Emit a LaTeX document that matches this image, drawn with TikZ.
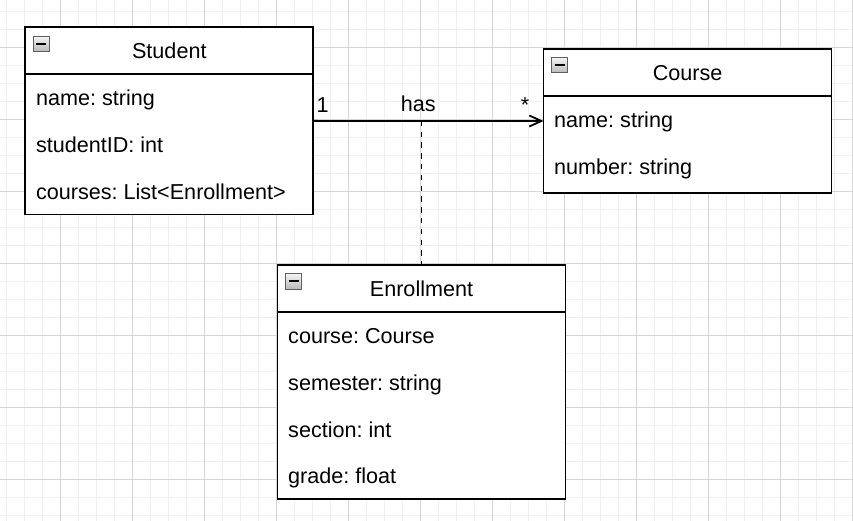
\documentclass[tikz,border=0pt]{standalone}
\usepackage{fontspec}
\setmainfont{Liberation Sans}
\usetikzlibrary{arrows.meta}
\definecolor{gridminor}{HTML}{F0F0F0}
\definecolor{gridmajor}{HTML}{D6D6D6}
\frenchspacing
\begin{document}
\begin{tikzpicture}[x=1pt,y=-1pt,
  classbox/.style={draw=black, line width=1.8pt, fill=white, anchor=north west, inner sep=0pt, outer sep=0pt, minimum width=288pt},
  divider/.style={draw=black, line width=1.8pt},
  title/.style={anchor=base, inner sep=0pt, font=\fontsize{21.6}{26}\selectfont},
  attr/.style={anchor=base west, inner sep=0pt, font=\fontsize{21.6}{26}\selectfont},
  mult/.style={anchor=base, inner sep=0pt, font=\fontsize{21.6}{26}\selectfont},
  icon/.style={anchor=north west, minimum width=16pt, minimum height=15.5pt, inner sep=0pt, outer sep=0pt,
    draw=gray!75!black, line width=0.8pt, top color=gray!8, bottom color=gray!55,
    path picture={\draw[black,line width=2pt] ([xshift=3pt]path picture bounding box.west) -- ([xshift=-3pt]path picture bounding box.east);}},
  assoc/.style={line width=1.8pt, -{Straight Barb[length=12pt,width=11pt]}},
  dashline/.style={line width=1.8pt, dash pattern=on 5.4pt off 5.4pt},
  minorgrid/.style={gridminor, line width=1pt},
  majorgrid/.style={gridmajor, line width=1pt}
]
\useasboundingbox (0,0) rectangle (853,521);
\fill[white] (0,0) rectangle (853,521);
% grid
\foreach \i in {0,...,47} \draw[minorgrid] ({6.3+18*\i},0) -- ({6.3+18*\i},521);
\foreach \i in {0,...,28} \draw[minorgrid] (0,{11.3+18*\i}) -- (853,{11.3+18*\i});
\foreach \i in {0,...,11} \draw[majorgrid] ({60.3+72*\i},0) -- ({60.3+72*\i},521);
\foreach \i in {0,...,6} \draw[majorgrid] (0,{47.3+72*\i}) -- (853,{47.3+72*\i});

% Student
\node[classbox, minimum height=187.2pt] (student) at (25.3,27.3) {};
\draw[divider] ([yshift=-46.8pt]student.north west) -- ([yshift=-46.8pt]student.north east);
\node[icon] (sicon) at (33.3,36) {};
\node[title] (stitle) at (169.3,58.9) {Student};
\node[attr] (sa1) at (35.8,105.7) {name: string};
\node[attr] (sa2) at (35.8,152.5) {studentID: int};
\node[attr] (sa3) at (35.8,199.3) {courses: List<Enrollment>};

% Course
\node[classbox, minimum height=143.4pt] (course) at (543.5,49.3) {};
\draw[divider] ([yshift=-46.8pt]course.north west) -- ([yshift=-46.8pt]course.north east);
\node[icon] (cicon) at (551.7,57.3) {};
\node[title] (ctitle) at (687.6,80.9) {Course};
\node[attr] (ca1) at (554,127.7) {name: string};
\node[attr] (ca2) at (554,174.5) {number: string};

% Enrollment
\node[classbox, minimum height=234pt] (enroll) at (277.5,265) {};
\draw[divider] ([yshift=-46.8pt]enroll.north west) -- ([yshift=-46.8pt]enroll.north east);
\node[icon] (eicon) at (285.5,273.5) {};
\node[title] (etitle) at (421.5,296.6) {Enrollment};
\node[attr] (ea1) at (288,343.4) {course: Course};
\node[attr] (ea2) at (288,390.2) {semester: string};
\node[attr] (ea3) at (288,437) {section: int};
\node[attr] (ea4) at (288,483.8) {grade: float};

% association
\draw[assoc] (student.east) -- (course.west);
\coordinate (mid) at (enroll.north |- student.east);
\draw[dashline] (mid) -- (enroll.north);
\node[mult, anchor=base west] (m1) at (316.5,112.5) {1};
\node[mult] (lhas) at (418.3,112) {has};
\node[mult] (mstar) at (525,112.5) {*};
\end{tikzpicture}
\end{document}
